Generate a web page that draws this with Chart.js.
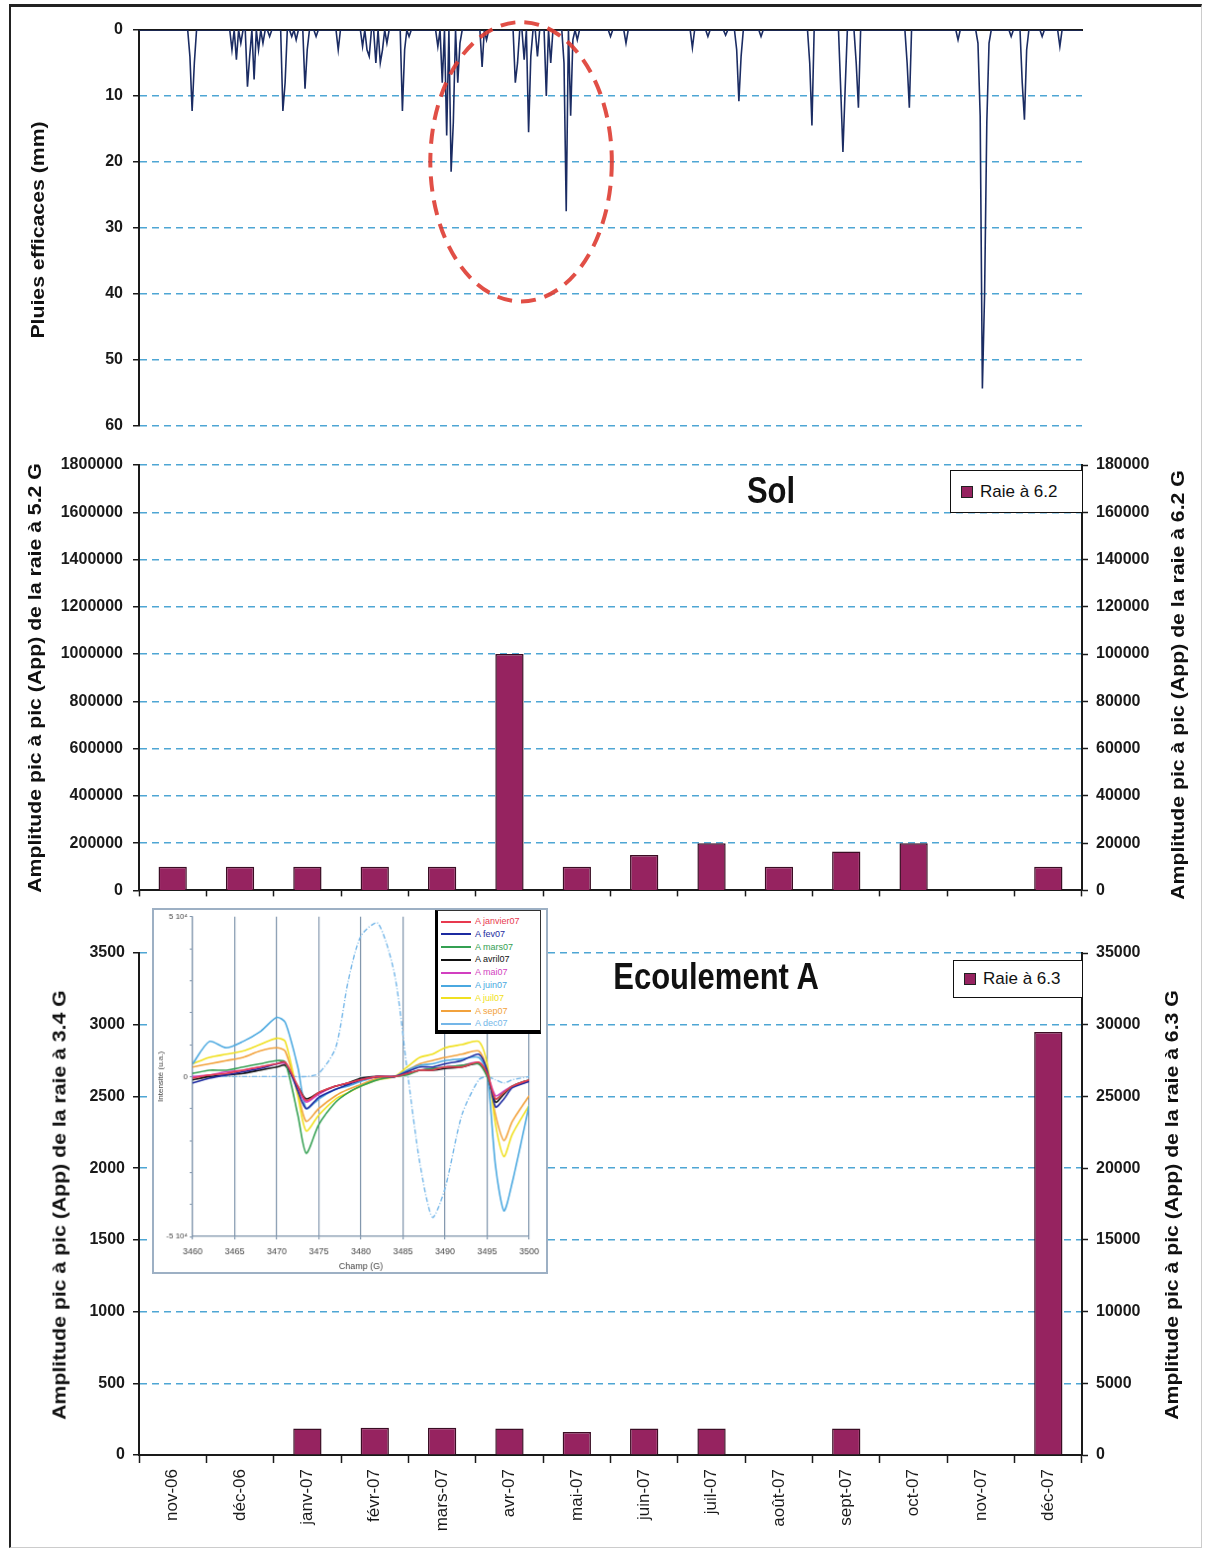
<!DOCTYPE html>
<html>
<head>
<meta charset="utf-8">
<script src="https://cdn.jsdelivr.net/npm/chart.js@4.4.1/dist/chart.umd.min.js"></script>
<style>
html, body { margin: 0; padding: 0; background: #fff; }
#page { position: relative; width: 1205px; height: 1549px; overflow: hidden; font-family: 'Liberation Sans', Arial, sans-serif; color: #111; }
#page canvas { position: absolute; }
.frame { position: absolute; left: 9px; top: 4px; width: 1190px; height: 1540px; border-top: 3px solid #222; border-left: 2px solid #222; border-right: 1px solid #ccc; border-bottom: 1px solid #ccc; }
.vt { position: absolute; white-space: nowrap; font-weight: bold; font-size: 18px; transform: translate(-50%, -50%) rotate(-90deg) scaleX(1.18); }
.big { position: absolute; white-space: nowrap; font-weight: bold; font-size: 31px; transform: translate(-50%, -50%) scaleY(1.18); }
.leg { position: absolute; background: #fff; border: 1.5px solid #111; font-size: 17px; display: flex; align-items: center; box-sizing: border-box; }
.sw { display: inline-block; width: 10px; height: 10px; background: #962360; border: 1.5px solid #222; margin: 0 7px 0 10px; }
#encart { border: 2px solid #9db0c4; background: #fff; }
#legEncart { position: absolute; left: 435px; top: 910px; width: 106px; height: 124px; background: #fff; border: 1px solid #333; border-left: 3px solid #000; border-bottom: 4px solid #000; box-sizing: border-box; padding-top: 4px; }
#legEncart div { height: 12.8px; font-size: 9px; line-height: 12.8px; white-space: nowrap; }
#legEncart span { display: inline-block; width: 30px; height: 2px; vertical-align: middle; margin: 0 4px 0 3px; }
</style>
</head>
<body>
<div id="page">
  <div class="frame"></div>
  <canvas id="pluie" width="1205" height="445" style="left:0;top:0"></canvas>
  <canvas id="sol" width="1205" height="465" style="left:0;top:445px"></canvas>
  <canvas id="ecoul" width="1205" height="644" style="left:0;top:905px"></canvas>
  <canvas id="encart" width="396" height="366" style="left:152px;top:908px"></canvas>
  <div id="legEncart"></div>

  <div class="vt" style="left:38px;top:230px">Pluies efficaces (mm)</div>
  <div class="vt" style="left:35px;top:678px">Amplitude pic à pic (App) de la raie à 5.2 G</div>
  <div class="vt" style="left:1178px;top:685px">Amplitude pic à pic (App) de la raie à 6.2 G</div>
  <div class="vt" style="left:60px;top:1205px">Amplitude pic à pic (App) de la raie à 3.4 G</div>
  <div class="vt" style="left:1172px;top:1205px">Amplitude pic à pic (App) de la raie à 6.3 G</div>

  <div class="big" style="left:771px;top:491px">Sol</div>
  <div class="big" style="left:716px;top:977px">Ecoulement A</div>

  <div class="leg" style="left:950px;top:470px;width:133px;height:43px"><span class="sw"></span>Raie à 6.2</div>
  <div class="leg" style="left:953px;top:960px;width:130px;height:38px"><span class="sw"></span>Raie à 6.3</div>
</div>

<script>
// mois (axe commun aux deux graphes du bas)
const months = ['nov-06', 'déc-06', 'janv-07', 'févr-07', 'mars-07', 'avr-07', 'mai-07',
                'juin-07', 'juil-07', 'août-07', 'sept-07', 'oct-07', 'nov-07', 'déc-07'];

const solRaie62 = [10000, 10000, 10000, 10000, 10000, 100000, 10000, 15000, 20000, 10000, 16500, 20000, null, 10000];
const ecoulRaie63 = [null, null, 1850, 1900, 1900, 1850, 1600, 1850, 1850, null, 1850, null, null, 29500];

// pluies efficaces : jour (depuis le 1er nov. 2006) et hauteur en mm
const nbJours = 426;
const pluieJour = [23, 24, 25, 42, 44, 46, 49, 50, 52, 54, 56, 59, 65, 66, 69, 71, 75, 76, 80, 90,
  101, 103, 104, 107, 109, 110, 112, 119, 120, 122, 135, 137, 139, 141, 142, 144, 145, 155, 157,
  170, 171, 174, 176, 177, 180, 184, 186, 192, 193, 195, 196, 198, 213, 220, 250, 257, 265,
  270, 271, 272, 281, 303, 304, 317, 318, 319, 324, 325, 347, 348, 370,
  379, 380, 381, 382, 383, 384, 394, 399, 400, 401, 408, 416];
const pluieMm = [4, 12.3, 5, 3, 4.5, 2, 8.6, 4, 7.5, 3, 2, 1, 12.3, 8, 1, 1.5, 8.9, 3, 1, 3,
  2.5, 3, 4, 5, 5, 3, 2, 12.3, 3, 1, 2.5, 8, 16, 21.5, 14, 8, 2, 5.6, 1.5,
  8, 5, 4.5, 15.5, 4, 4, 10, 5, 5, 27.5, 13, 1.5, 1.5, 1, 2, 2.7, 1, 0.8,
  3, 10.8, 4, 1, 5, 14.5, 9, 18.5, 9, 5, 11.8, 5, 11.8, 1.5,
  2, 13, 54.4, 40, 14, 2, 1, 8, 13.6, 3, 1, 2.5];

// zone entourée (jour, mm) et demi-axes
const ellipseJour = 172.6, ellipseMm = 20, ellipseDemiJours = 41, ellipseDemiMm = 21.2;

// encart : spectres RPE (champ en G, intensité en 10^4 u.a.)
const champG = [3460, 3462, 3464, 3466, 3468, 3470, 3471, 3472.5, 3473.5, 3475, 3477, 3478.5, 3480,
                3482, 3484, 3485.5, 3487, 3488.5, 3490, 3492, 3494, 3495, 3496, 3497, 3498, 3500];
const aJanvier07 = [-0.05, 0.05, 0.1, 0.2, 0.3, 0.4, 0.45, -0.3, -0.75, -0.5, -0.3, -0.2, -0.1, 0, 0, 0.1, 0.2, 0.2, 0.3, 0.3, 0.45, 0.1, -0.7, -0.5, -0.3, -0.1];
const aFev07 = [-0.2, -0.05, 0.05, 0.15, 0.25, 0.4, 0.45, -0.45, -1.0, -0.65, -0.4, -0.25, -0.1, 0, 0, 0.15, 0.3, 0.3, 0.4, 0.5, 0.7, 0.2, -0.95, -0.7, -0.35, -0.15];
const aMars07 = [0.1, 0.2, 0.2, 0.3, 0.4, 0.5, 0.45, -1.2, -2.4, -1.5, -0.8, -0.5, -0.3, -0.1, 0, 0.05, 0.2, 0.25, 0.3, 0.35, 0.4, 0, -0.7, -0.5, -0.3, -0.1];
const aAvril07 = [-0.1, 0, 0.05, 0.1, 0.2, 0.3, 0.35, -0.3, -0.7, -0.5, -0.3, -0.2, -0.05, 0, 0, 0.1, 0.2, 0.2, 0.25, 0.3, 0.4, 0.05, -0.8, -0.55, -0.3, -0.1];
const aMai07 = [0, 0.05, 0.15, 0.2, 0.3, 0.4, 0.4, -0.35, -0.8, -0.55, -0.3, -0.2, -0.1, 0, 0, 0.1, 0.2, 0.25, 0.3, 0.35, 0.45, 0.1, -0.6, -0.45, -0.3, -0.15];
const aJuin07 = [0.4, 1.1, 0.9, 1.1, 1.4, 1.85, 1.7, 0.3, -1.0, -0.7, -0.4, -0.3, -0.15, 0, 0, 0.2, 0.35, 0.4, 0.5, 0.55, 0.6, 0.1, -2.8, -4.2, -3.3, -0.9];
const aJuil07 = [0.4, 0.6, 0.7, 0.8, 1.0, 1.2, 1.1, -0.6, -1.7, -1.2, -0.7, -0.5, -0.3, -0.1, 0, 0.3, 0.6, 0.7, 0.9, 1.0, 1.1, 0.4, -1.5, -2.5, -1.8, -0.9];
const aSep07 = [0.3, 0.4, 0.5, 0.6, 0.8, 0.9, 0.8, -0.5, -1.4, -1.0, -0.6, -0.4, -0.25, -0.05, 0, 0.2, 0.4, 0.5, 0.6, 0.7, 0.8, 0.2, -1.2, -2.0, -1.4, -0.6];
const aDec07 = [0, 0, 0, 0, 0, 0, 0, 0, 0, 0.1, 0.9, 3.0, 4.4, 4.8, 3.2, 0.2, -2.7, -4.4, -3.5, -1.2, -0.1, 0, -0.1, -0.2, -0.1, 0];

const encartNoms = ['A janvier07', 'A fev07', 'A mars07', 'A avril07', 'A mai07', 'A juin07', 'A juil07', 'A sep07', 'A dec07'];
const encartValeurs = [aJanvier07, aFev07, aMars07, aAvril07, aMai07, aJuin07, aJuil07, aSep07, aDec07];
const encartCouleurs = ['#e8394f', '#1c2aa0', '#34a052', '#111111', '#d23fc0', '#4aa8e0', '#f0e020', '#f2a23c', '#74b6e8'];

Chart.defaults.font.family = "'Liberation Sans', Arial, sans-serif";
Chart.defaults.color = '#111';

const axisCol = '#1a1a1a';
const gridCol = '#4ea6d4';
const tickFont = { size: 16, weight: 'bold' };
const barFill = '#962360';
const barEdge = '#3b0d24';
const noZero = ctx => (ctx.tick && ctx.tick.value === 0) ? 'rgba(0,0,0,0)' : gridCol;
const plain = v => String(v);

// ---------- pluies ----------
const pluieData = [];
for (let d = 0; d <= nbJours; d++) pluieData.push({ x: d, y: 0 });
pluieJour.forEach((d, i) => { pluieData[d].y = pluieMm[i]; });

const ellipse = {
    id: 'ellipse',
    afterDatasetsDraw(chart) {
        const { ctx, scales: { x, y } } = chart;
        const cx = x.getPixelForValue(ellipseJour);
        const cy = y.getPixelForValue(ellipseMm);
        const rx = x.getPixelForValue(ellipseJour + ellipseDemiJours) - cx;
        const ry = y.getPixelForValue(ellipseMm + ellipseDemiMm) - cy;
        ctx.save();
        ctx.strokeStyle = 'rgba(222,60,50,0.9)';
        ctx.lineWidth = 4;
        ctx.setLineDash([15, 9]);
        ctx.beginPath();
        ctx.ellipse(cx, cy, rx, ry, 0, 0, Math.PI * 2);
        ctx.stroke();
        ctx.restore();
    }
};

new Chart(document.getElementById('pluie'), {
    type: 'line',
    data: {
        datasets: [{
            label: 'Pluies efficaces',
            data: pluieData,
            borderColor: '#1b2c63',
            borderWidth: 1.6,
            pointRadius: 0,
            tension: 0,
            fill: false
        }]
    },
    options: {
        responsive: false,
        animation: false,
        layout: { padding: { top: 0, right: 123, bottom: 10, left: 0 } },
        plugins: { legend: { display: false }, tooltip: { enabled: false } },
        scales: {
            x: {
                type: 'linear', position: 'top', min: 0, max: nbJours,
                ticks: { display: false },
                grid: { display: false },
                border: { color: axisCol, width: 2 },
                afterFit: s => { s.height = 30; }
            },
            y: {
                reverse: true, min: 0, max: 60,
                ticks: { stepSize: 10, font: tickFont, color: axisCol, padding: 10, callback: plain },
                grid: { color: noZero, lineWidth: 1.5, tickColor: axisCol, tickLength: 6, tickWidth: 1.5 },
                border: { color: axisCol, width: 2, dash: [7, 5] },
                afterFit: s => { s.width = 139; }
            }
        }
    },
    plugins: [ellipse]
});

// ---------- sol ----------
new Chart(document.getElementById('sol'), {
    type: 'bar',
    data: {
        labels: months,
        datasets: [{
            label: 'Raie à 6.2', data: solRaie62, yAxisID: 'y1',
            backgroundColor: barFill, borderColor: barEdge, borderWidth: 1.5,
            barPercentage: 0.42, categoryPercentage: 1
        }]
    },
    options: {
        responsive: false,
        animation: false,
        layout: { padding: { top: 20, right: 0, bottom: 0, left: 0 } },
        plugins: { legend: { display: false }, tooltip: { enabled: false } },
        scales: {
            x: {
                ticks: { display: false },
                grid: { drawOnChartArea: false, tickLength: 6, tickColor: axisCol, tickWidth: 1.5 },
                border: { color: axisCol, width: 2 },
                afterFit: s => { s.height = 10; }
            },
            y: {
                position: 'left', min: 0, max: 1800000,
                ticks: { stepSize: 200000, font: tickFont, color: axisCol, padding: 10, callback: plain },
                grid: { color: noZero, lineWidth: 1.5, tickColor: axisCol, tickLength: 6, tickWidth: 1.5 },
                border: { color: axisCol, width: 2, dash: [7, 5] },
                afterFit: s => { s.width = 139; }
            },
            y1: {
                position: 'right', min: 0, max: 180000,
                ticks: { stepSize: 20000, font: tickFont, color: axisCol, padding: 8, callback: plain },
                grid: { drawOnChartArea: false, tickColor: axisCol, tickLength: 6, tickWidth: 1.5 },
                border: { color: axisCol, width: 2 },
                afterFit: s => { s.width = 123; }
            }
        }
    }
});

// ---------- écoulement A ----------
new Chart(document.getElementById('ecoul'), {
    type: 'bar',
    data: {
        labels: months,
        datasets: [{
            label: 'Raie à 6.3', data: ecoulRaie63, yAxisID: 'y1',
            backgroundColor: barFill, borderColor: barEdge, borderWidth: 1.5,
            barPercentage: 0.42, categoryPercentage: 1
        }]
    },
    options: {
        responsive: false,
        animation: false,
        layout: { padding: { top: 48, right: 0, bottom: 0, left: 0 } },
        plugins: { legend: { display: false }, tooltip: { enabled: false } },
        scales: {
            x: {
                ticks: { font: { size: 17 }, color: axisCol, minRotation: 90, maxRotation: 90, padding: 6, autoSkip: false },
                grid: { drawOnChartArea: false, tickLength: 8, tickColor: axisCol, tickWidth: 1.5 },
                border: { color: axisCol, width: 2 },
                afterFit: s => { s.height = 94; }
            },
            y: {
                position: 'left', min: 0, max: 3500,
                ticks: { stepSize: 500, font: tickFont, color: axisCol, padding: 8, callback: plain },
                grid: { color: noZero, lineWidth: 1.5, tickColor: axisCol, tickLength: 6, tickWidth: 1.5 },
                border: { color: axisCol, width: 2, dash: [7, 5] },
                afterFit: s => { s.width = 139; }
            },
            y1: {
                position: 'right', min: 0, max: 35000,
                ticks: { stepSize: 5000, font: tickFont, color: axisCol, padding: 8, callback: plain },
                grid: { drawOnChartArea: false, tickColor: axisCol, tickLength: 6, tickWidth: 1.5 },
                border: { color: axisCol, width: 2 },
                afterFit: s => { s.width = 123; }
            }
        }
    }
});

// ---------- encart spectres ----------
new Chart(document.getElementById('encart'), {
    type: 'line',
    data: {
        datasets: encartValeurs.map((vals, i) => ({
            label: encartNoms[i],
            data: champG.map((g, j) => ({ x: g, y: vals[j] })),
            borderColor: encartCouleurs[i],
            borderWidth: i === 8 ? 1.4 : 1.6,
            borderDash: i === 8 ? [5, 2, 1, 2] : [],
            pointRadius: 0,
            tension: 0.25
        }))
    },
    options: {
        responsive: false,
        animation: false,
        layout: { padding: { top: 0, right: 0, bottom: 0, left: 0 } },
        plugins: { legend: { display: false }, tooltip: { enabled: false } },
        scales: {
            x: {
                type: 'linear', min: 3460, max: 3500,
                ticks: { stepSize: 5, font: { size: 9 }, color: '#444', maxRotation: 0, padding: 7, callback: plain },
                grid: { color: '#7d93aa', lineWidth: 1.2, tickLength: 3 },
                border: { color: '#7d93aa', width: 1.2 },
                title: { display: true, text: 'Champ (G)', font: { size: 9 }, color: '#444', padding: { top: 0, bottom: 0 } },
                afterFit: s => { s.height = 36; }
            },
            y: {
                min: -5, max: 5,
                ticks: {
                    stepSize: 1, autoSkip: false, font: { size: 8 }, color: '#444', padding: 2,
                    callback: v => v === 5 ? '5 10⁴' : v === -5 ? '-5 10⁴' : v === 0 ? '0' : ''
                },
                grid: { color: ctx => ctx.tick && ctx.tick.value === 0 ? '#c9d3dd' : 'rgba(0,0,0,0)', tickColor: '#7d93aa', tickLength: 3 },
                border: { color: '#7d93aa', width: 1.2 },
                title: { display: true, text: 'Intensité (u.a.)', font: { size: 8 }, color: '#444', padding: { top: 2, bottom: 0 } },
                afterFit: s => { s.width = 39; }
            }
        }
    }
});

const legEncart = document.getElementById('legEncart');
encartNoms.forEach((nom, i) => {
    const row = document.createElement('div');
    row.style.color = encartCouleurs[i];
    row.innerHTML = '<span style="background:' + encartCouleurs[i] + '"></span>' + nom;
    legEncart.appendChild(row);
});
</script>
</body>
</html>
